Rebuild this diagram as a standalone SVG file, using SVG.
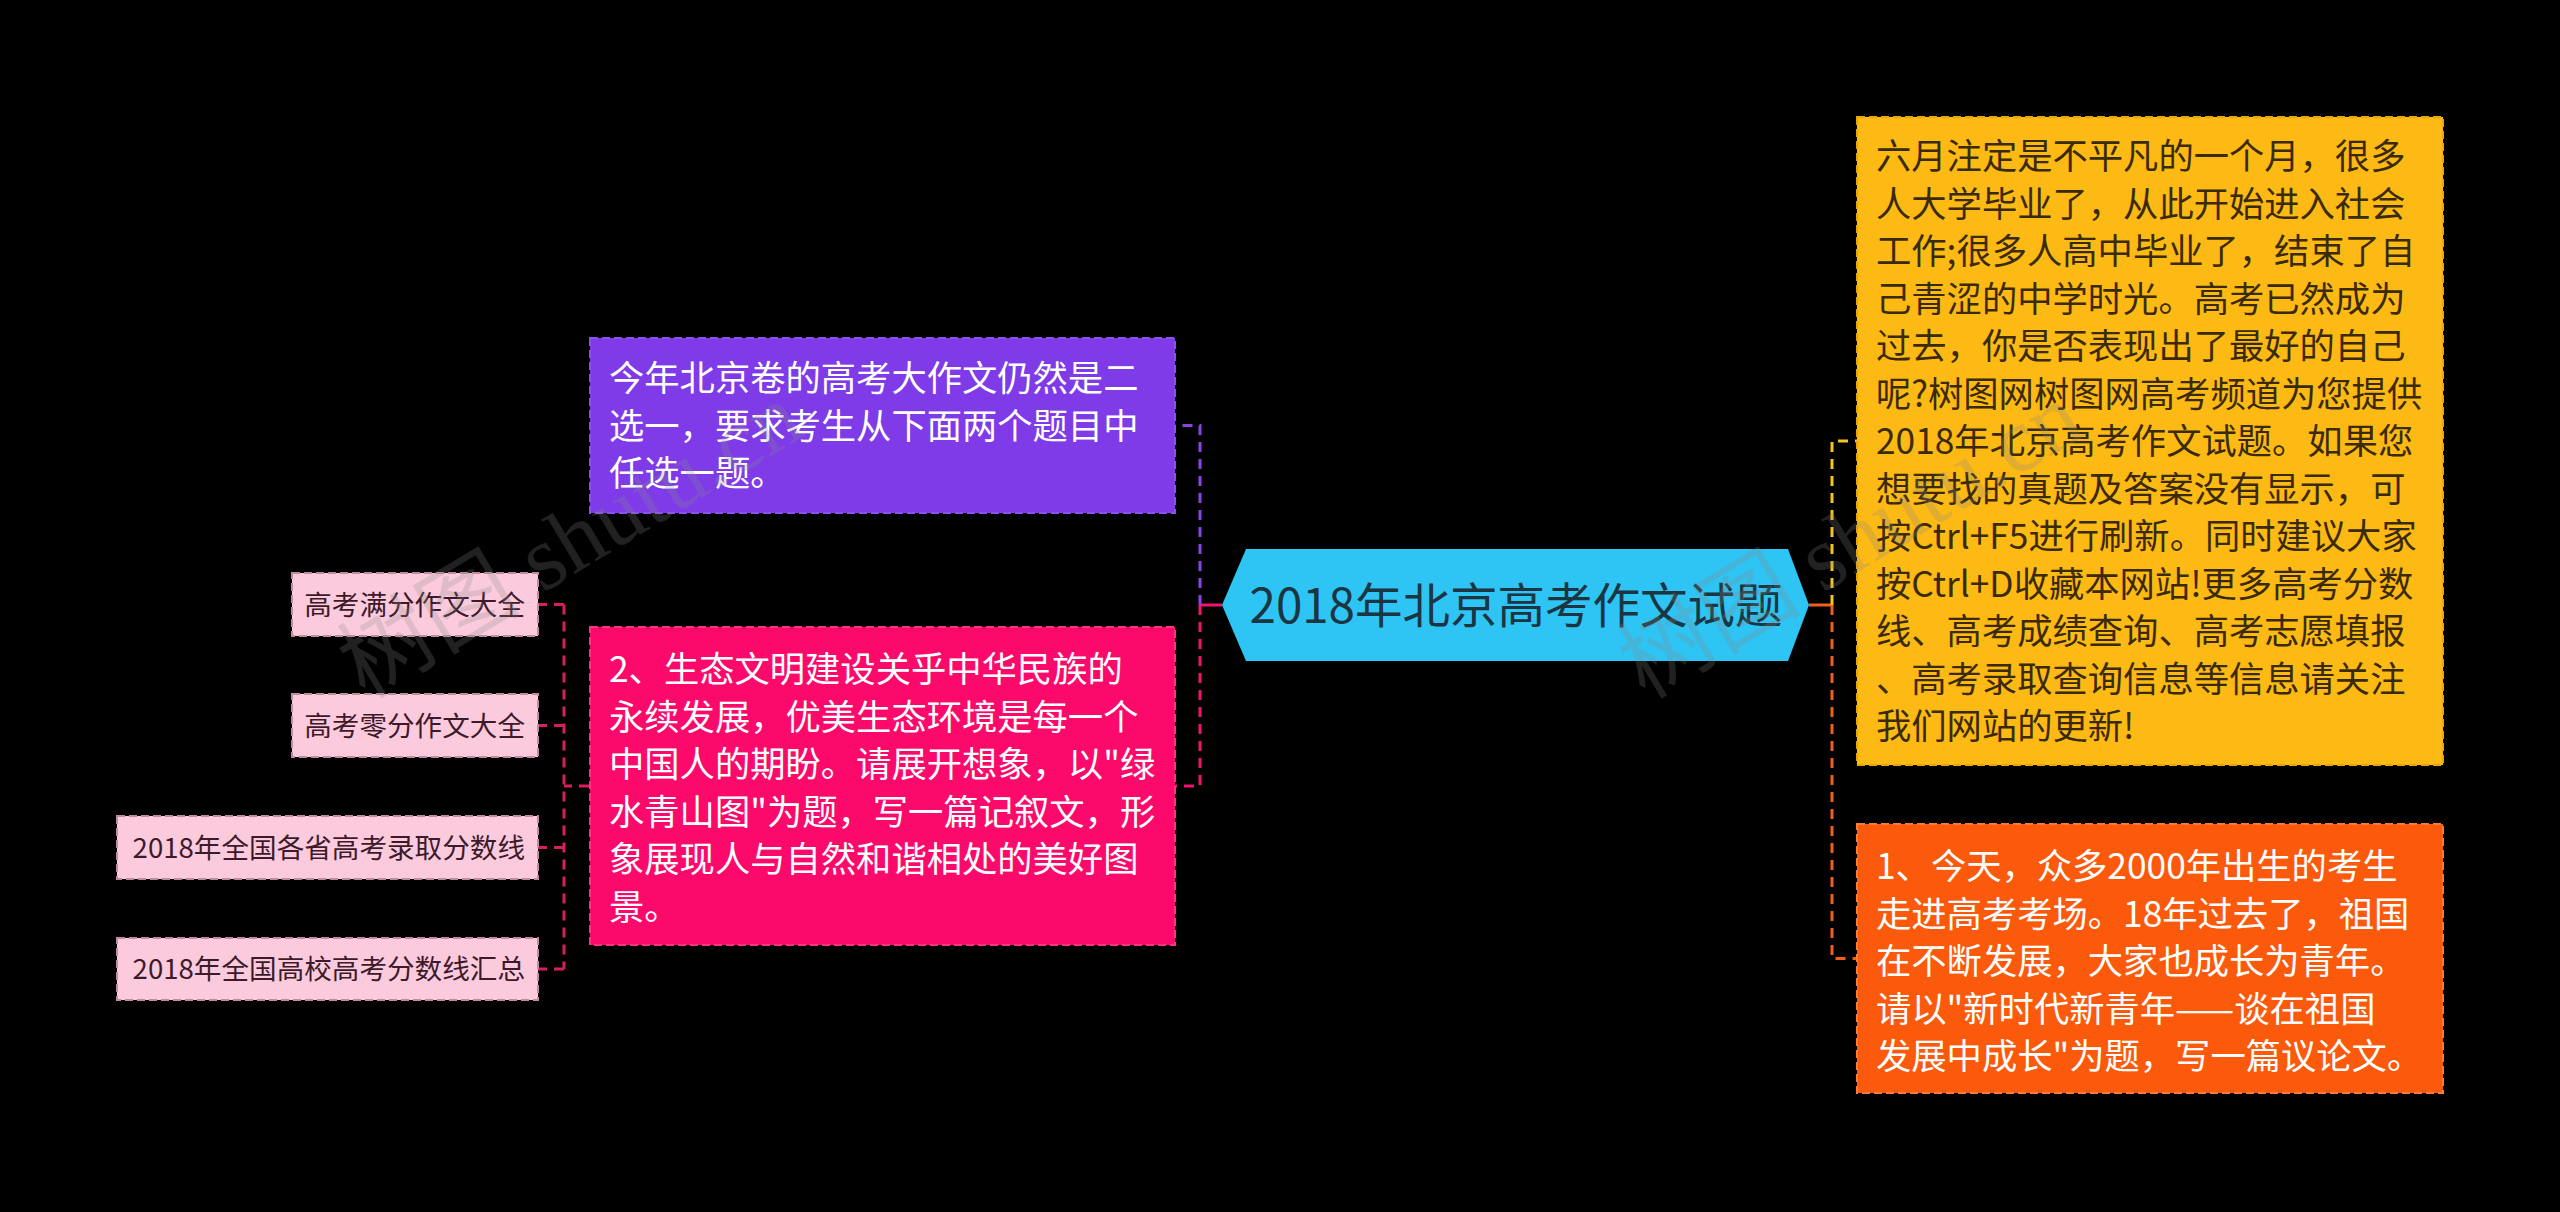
<svg xmlns="http://www.w3.org/2000/svg" width="2560" height="1212" viewBox="0 0 2560 1212">
<style>
.t{font-family:"Noto Sans CJK SC","Noto Sans",sans-serif;}
.body{font-size:35.3px;}
.white{fill:#ffffff;}
.dark{fill:#3a2b06;}
.small{font-size:27.6px;fill:#3d1a2a;}
.box{stroke-width:2;stroke-dasharray:8 4;}
.c{fill:none;stroke-width:3;}
.d{stroke-dasharray:10 7;}
.wm{font-family:"Liberation Serif","Noto Sans CJK SC",serif;font-size:92px;fill:#8a8a8a;opacity:0.24;}
</style>
<rect x="0" y="0" width="2560" height="1212" fill="#000000"/>

<g id="connectors">
  <line class="c" x1="1200" y1="605" x2="1222" y2="605" stroke="#F0146E"/>
  <path class="c d" d="M1200 605 V425.5 H1175" stroke="#8A44E6"/>
  <path class="c d" d="M1200 605 V786 H1175" stroke="#F0146E"/>
  <line class="c" x1="1809" y1="605" x2="1832" y2="605" stroke="#F0601A"/>
  <path class="c d" d="M1832 605 V441 H1857" stroke="#F5C518"/>
  <path class="c d" d="M1832 605 V958.5 H1857" stroke="#F0601A"/>
  <path class="c d" d="M589 786 H564" stroke="#D81E63"/>
  <path class="c d" d="M564 604.5 V969" stroke="#D81E63"/>
  <path class="c d" d="M564 604.5 H538 M564 725.5 H538 M564 847.5 H538 M564 969 H538" stroke="#D81E63"/>
</g>

<g id="center">
  <polygon points="1222,605 1246,549 1788,549 1809,605 1788,661 1246,661" fill="#2EC4F3"/>
  <text class="t" x="1516" y="623" font-size="47.5" text-anchor="middle" fill="#1b3542">2018年北京高考作文试题</text>
</g>

<g id="n-purple">
  <rect class="box" x="590" y="338" width="585" height="175" fill="#7E3BE7" stroke="#8c50ec"/>
  <text class="t body white">
    <tspan x="609" y="391">今年北京卷的高考大作文仍然是二</tspan>
    <tspan x="609" y="438.5">选一，要求考生从下面两个题目中</tspan>
    <tspan x="609" y="486">任选一题。</tspan>
  </text>
</g>

<g id="n-pink">
  <rect class="box" x="590" y="627" width="585" height="318" fill="#FB0A6B" stroke="#ff3384"/>
  <text class="t body white">
    <tspan x="609" y="682">2、生态文明建设关乎中华民族的</tspan>
    <tspan x="609" y="729.5">永续发展，优美生态环境是每一个</tspan>
    <tspan x="609" y="777">中国人的期盼。请展开想象，以"绿</tspan>
    <tspan x="609" y="824.5">水青山图"为题，写一篇记叙文，形</tspan>
    <tspan x="609" y="872">象展现人与自然和谐相处的美好图</tspan>
    <tspan x="609" y="919.5">景。</tspan>
  </text>
</g>

<g id="s1">
  <rect class="box" x="292" y="573" width="246" height="63" fill="#FBCBDD" stroke="#c08aa0"/>
  <text class="t small" x="525" y="614.5" text-anchor="end">高考满分作文大全</text>
</g>
<g id="s2">
  <rect class="box" x="292" y="694" width="246" height="63" fill="#FBCBDD" stroke="#c08aa0"/>
  <text class="t small" x="525" y="735.5" text-anchor="end">高考零分作文大全</text>
</g>
<g id="s3">
  <rect class="box" x="117" y="816" width="421" height="63" fill="#FBCBDD" stroke="#c08aa0"/>
  <text class="t small" x="525" y="857.5" text-anchor="end">2018年全国各省高考录取分数线</text>
</g>
<g id="s4">
  <rect class="box" x="117" y="938" width="421" height="62" fill="#FBCBDD" stroke="#c08aa0"/>
  <text class="t small" x="525" y="979" text-anchor="end">2018年全国高校高考分数线汇总</text>
</g>

<g id="n-yellow">
  <rect class="box" x="1857" y="117" width="586" height="648" fill="#FDB914" stroke="#eaa600"/>
  <text class="t body dark">
    <tspan x="1876" y="169">六月注定是不平凡的一个月，很多</tspan>
    <tspan x="1876" y="216.5">人大学毕业了，从此开始进入社会</tspan>
    <tspan x="1876" y="264">工作;很多人高中毕业了，结束了自</tspan>
    <tspan x="1876" y="311.5">己青涩的中学时光。高考已然成为</tspan>
    <tspan x="1876" y="359">过去，你是否表现出了最好的自己</tspan>
    <tspan x="1876" y="406.5">呢?树图网树图网高考频道为您提供</tspan>
    <tspan x="1876" y="454">2018年北京高考作文试题。如果您</tspan>
    <tspan x="1876" y="501.5">想要找的真题及答案没有显示，可</tspan>
    <tspan x="1876" y="549">按Ctrl+F5进行刷新。同时建议大家</tspan>
    <tspan x="1876" y="596.5">按Ctrl+D收藏本网站!更多高考分数</tspan>
    <tspan x="1876" y="644">线、高考成绩查询、高考志愿填报</tspan>
    <tspan x="1876" y="691.5">、高考录取查询信息等信息请关注</tspan>
    <tspan x="1876" y="739">我们网站的更新!</tspan>
  </text>
</g>

<g id="n-orange">
  <rect class="box" x="1857" y="824" width="586" height="269" fill="#FB5A0C" stroke="#ff7a36"/>
  <text class="t body white">
    <tspan x="1876" y="879">1、今天，众多2000年出生的考生</tspan>
    <tspan x="1876" y="926.5">走进高考考场。18年过去了，祖国</tspan>
    <tspan x="1876" y="974">在不断发展，大家也成长为青年。</tspan>
    <tspan x="1876" y="1021.5">请以"新时代新青年——谈在祖国</tspan>
    <tspan x="1876" y="1069">发展中成长"为题，写一篇议论文。</tspan>
  </text>
</g>

<g id="watermarks">
  <text class="wm" transform="translate(365 700) rotate(-31)">树图 shutu.cn</text>
  <text class="wm" transform="translate(1645 700) rotate(-31)">树图 shutu.cn</text>
</g>
</svg>
